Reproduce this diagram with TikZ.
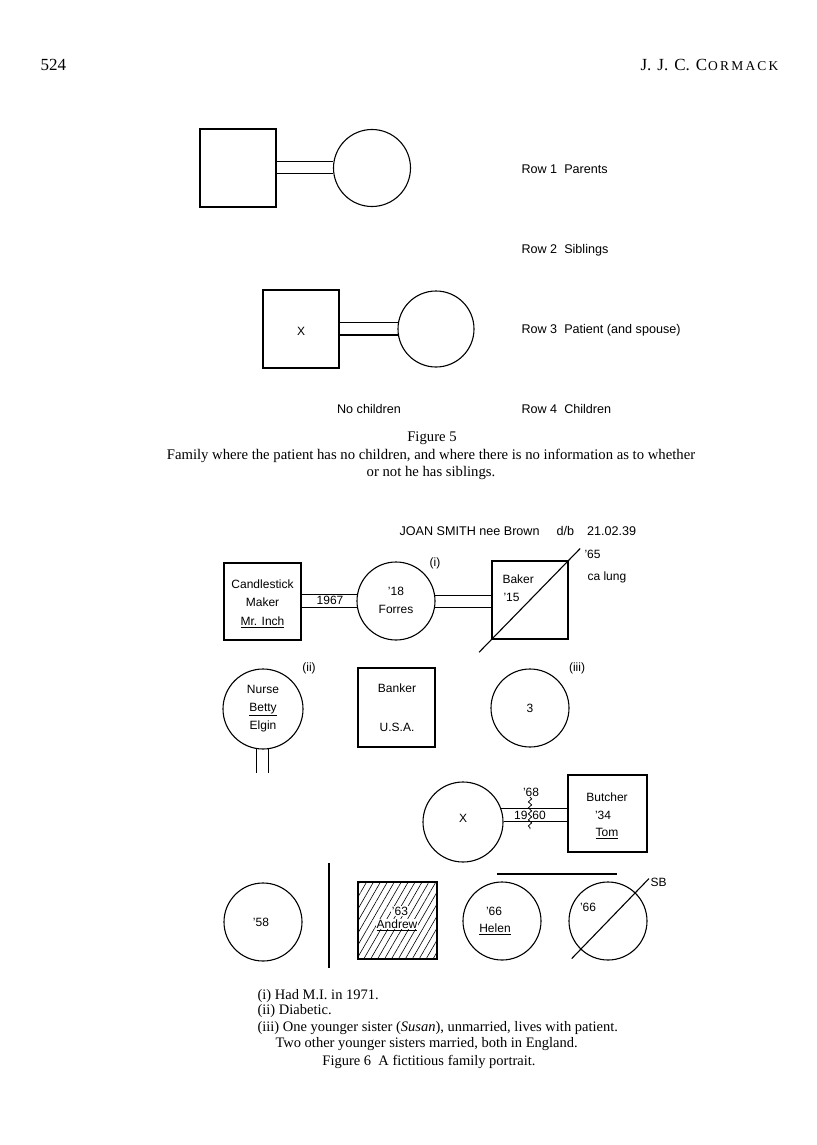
\documentclass[tikz,border=0pt]{standalone}
\usepackage{fontspec}
\setmainfont{Liberation Serif}
\newfontfamily\lab{Liberation Sans}
\usetikzlibrary{patterns.meta,decorations.pathmorphing,calc}
\begin{document}
\begin{tikzpicture}[x=1pt,y=-1pt,line width=1.1pt,
 sq/.style={draw,rectangle,inner sep=0pt},
 ci/.style={draw,circle,inner sep=0pt},
 lbl/.style={font=\lab\fontsize{12}{12}\selectfont,inner sep=0pt,text height=8.6pt,text depth=0pt},
 rowlbl/.style={font=\lab\fontsize{12.6}{13}\selectfont,inner sep=0pt,text height=9pt,text depth=0pt},
 ser/.style={font=\fontsize{14.5}{17}\selectfont,inner sep=0pt,text height=9.5pt,text depth=0pt},
 capser/.style={font=\fontsize{14.7}{17}\selectfont,inner sep=0pt,text height=9.5pt,text depth=0pt},
 hdr/.style={font=\fontsize{17}{19}\selectfont,inner sep=0pt,text height=11pt,text depth=0pt},
 hatch/.style={pattern={Lines[angle=60,distance=6pt,line width=0.6pt]}},
 zig/.style={decorate,decoration={snake,segment length=6pt,amplitude=1.6pt}}]
\useasboundingbox[fill=white] (0,0) rectangle (816,1145);

% header
\node[hdr,anchor=west] (pg) at (40,65) {524};
\node[hdr,anchor=east] (au) at (779,65) {J.\hspace{6pt}J.\hspace{6pt}C.\hspace{6pt}C{\fontsize{13.5}{14}\selectfont \hspace{1pt}O\hspace{2.2pt}R\hspace{2.2pt}M\hspace{2.2pt}A\hspace{2.2pt}C\hspace{2.2pt}K}};

% ---------- Figure 5 ----------
\node[sq,minimum width=76pt,minimum height=78pt] (f5p) at (238,168) {};
\node[ci,minimum size=77pt] (f5m) at (372,168) {};
\draw (f5p.east |- f5m.171.8) -- (f5m.171.8);
\draw (f5p.east |- f5m.188.2) -- (f5m.188.2);

\node[sq,minimum width=76pt,minimum height=78pt] (f5x) at (301,329) {};
\node[lbl] (f5xt) at (301,331) {X};
\node[ci,minimum size=76pt] (f5s) at (436,329) {};
\draw (f5x.east |- f5s.170.9) -- (f5s.170.9);
\draw (f5x.east |- f5s.189.1) -- (f5s.189.1);

\node[rowlbl] (nochild) at (369,409) {No children};
\node[rowlbl,anchor=west] (r1) at (521,169) {Row 1\ \ Parents};
\node[rowlbl,anchor=west] (r2) at (521,249) {Row 2\ \ Siblings};
\node[rowlbl,anchor=west] (r3) at (521,329) {Row 3\ \ Patient (and spouse)};
\node[rowlbl,anchor=west] (r4) at (521,409) {Row 4\ \ Children};

\node[capser] (cap5a) at (432,437) {Figure 5};
\node[capser] (cap5b) at (431,455) {Family where the patient has no children, and where there is no information as to whether};
\node[capser] (cap5c) at (431,472) {or not he has siblings.};

% ---------- Figure 6 ----------
\node[rowlbl,anchor=west] (title) at (399,531) {JOAN SMITH nee Brown\hspace{17pt}d/b\hspace{13pt}21.02.39};

% row 1
\node[sq,minimum width=77pt,minimum height=77pt] (cand) at (262.5,601.5) {};
\node[lbl] (cand1) at (262.5,584) {Candlestick};
\node[lbl] (cand2) at (262.5,602) {Maker};
\node[lbl] (cand3) at (262.5,621) {\underline{Mr. Inch}};
\node[ci,minimum size=78pt] (forres) at (396,601) {};
\node[lbl] (forres1) at (396,591) {’18};
\node[lbl] (forres2) at (396,609) {Forres};
\draw (cand.east |- forres.170.4) -- (forres.170.4);
\draw (cand.east |- forres.189.6) -- (forres.189.6);
\node[lbl] (y1967) at (330,600) {1967};
\node[lbl] (n1) at (435,562) {(i)};
\node[sq,minimum width=76pt,minimum height=78pt] (baker) at (530,600) {};
\draw (forres.8.8) -- (forres.8.8 -| baker.west);
\draw (forres.351.2) -- (forres.351.2 -| baker.west);
\node[lbl,anchor=west] (baker1) at (502,579) {Baker};
\node[lbl,anchor=west] (baker2) at (503,597) {’15};
\draw ($(baker.south west)!-0.16!(baker.north east)$) -- ($(baker.south west)!1.15!(baker.north east)$);
\node[lbl,anchor=west] (d65) at (584,554) {’65};
\node[lbl,anchor=west] (calung) at (587,576) {ca lung};

% row 2
\node[ci,minimum size=80pt] (nurse) at (263,709) {};
\node[lbl] (nurse1) at (263,689) {Nurse};
\node[lbl] (nurse2) at (263,707) {\underline{Betty}};
\node[lbl] (nurse3) at (263,725) {Elgin};
\node[lbl] (n2) at (309,667) {(ii)};
\coordinate (nb) at (263,773);
\draw (nurse.261.4) -- (nurse.261.4 |- nb);
\draw (nurse.278.6) -- (nurse.278.6 |- nb);
\node[sq,minimum width=77pt,minimum height=79pt] (bank) at (396.5,707.5) {};
\node[lbl] (bank1) at (397,688) {Banker};
\node[lbl] (bank2) at (397,727) {U.S.A.};
\node[ci,minimum size=78pt] (three) at (530,708) {};
\node[lbl] (three1) at (530,708) {3};
\node[lbl] (n3) at (577,667) {(iii)};

% row 3
\node[ci,minimum size=80pt] (pat) at (463,822) {};
\node[lbl] (patx) at (463,818) {X};
\node[sq,minimum width=79pt,minimum height=77pt] (butch) at (607.5,813.5) {};
\node[lbl] (butch1) at (607,797) {Butcher};
\node[lbl] (butch2) at (603,815) {’34};
\node[lbl] (butch3) at (607,832) {\underline{Tom}};
\draw (pat.20.5) -- (pat.20.5 -| butch.west);
\draw (pat.1.4) -- (pat.1.4 -| butch.west);
\node[lbl] (d68) at (531,792) {’68};
\node[lbl] (y1960) at (530,815) {19\hspace{5pt}60};
\coordinate (zz1) at (530,797);
\coordinate (zz2) at (530,829);
\draw[zig,line width=0.8pt] (zz1) -- (zz2);

% row 4
\node[ci,minimum size=78pt] (c58) at (263,922) {};
\node[lbl] (c58t) at (261,922) {’58};
\coordinate (vl1) at (329,863);
\coordinate (vl2) at (329,968);
\draw (vl1) -- (vl2);
\node[sq,hatch,minimum width=79pt,minimum height=77pt] (andrew) at (397.5,920.5) {};
\node[lbl,fill=white,inner sep=1pt] (andrew1) at (400,911) {’63};
\node[lbl,fill=white,inner sep=1pt] (andrew2) at (397,924) {\underline{Andrew}};
\coordinate (hl1) at (497,874);
\coordinate (hl2) at (617,874);
\draw (hl1) -- (hl2);
\node[ci,minimum size=78pt] (helen) at (502,921) {};
\node[lbl] (helen1) at (494,911) {’66};
\node[lbl] (helen2) at (495,928) {\underline{Helen}};
\node[ci,minimum size=78pt] (sb) at (608,921) {};
\node[lbl] (sb1) at (588,907) {’66};
\draw ($(sb.center)!1.32!(sb.226.8)$) -- ($(sb.center)!1.49!(sb.46.8)$);
\node[lbl,anchor=west] (sbt) at (650,882) {SB};

% notes
\node[ser,anchor=west] (fn1) at (257,995) {(i) Had M.I. in 1971.};
\node[ser,anchor=west] (fn2) at (257,1010) {(ii) Diabetic.};
\node[ser,anchor=west] (fn3) at (257,1027) {(iii) One younger sister (\textit{Susan}), unmarried, lives with patient.};
\node[ser,anchor=west] (fn4) at (275,1043) {Two other younger sisters married, both in England.};
\node[ser] (cap6) at (429,1061) {Figure 6\ \ A fictitious family portrait.};
\end{tikzpicture}
\end{document}
